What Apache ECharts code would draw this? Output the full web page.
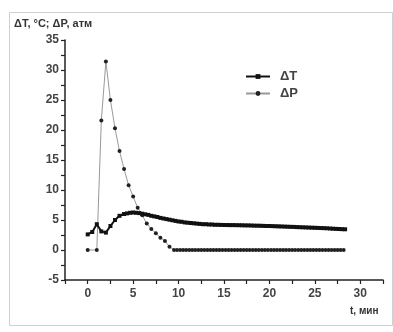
<!DOCTYPE html>
<html>
<head>
<meta charset="utf-8">
<script src="https://cdn.jsdelivr.net/npm/echarts@6/dist/echarts.min.js"></script>
<style>html,body{margin:0;padding:0;background:#fff}#c{width:393px;height:332px}</style>
</head>
<body>
<div id="c"></div>
<script>
// ΔT (°C) sample times (min) and values
var tT = [0, 0.5, 1, 1.5, 2, 2.5, 3, 3.5, 4,
  4.33, 4.67, 5, 5.33, 5.67, 6, 6.33, 6.67, 7, 7.33, 7.67, 8, 8.33, 8.67, 9, 9.33, 9.67,
  10, 10.33, 10.67, 11, 11.33, 11.67, 12, 12.33, 12.67, 13, 13.33, 13.67, 14, 14.33, 14.67,
  15, 15.33, 15.67, 16, 16.33, 16.67, 17, 17.33, 17.67, 18, 18.33, 18.67, 19, 19.33, 19.67,
  20, 20.33, 20.67, 21, 21.33, 21.67, 22, 22.33, 22.67, 23, 23.33, 23.67, 24, 24.33, 24.67,
  25, 25.33, 25.67, 26, 26.33, 26.67, 27, 27.33, 27.67, 28, 28.33];
var dT = [2.6, 3.0, 4.3, 3.1, 2.9, 4.0, 5.0, 5.7, 6.0,
  6.1, 6.2, 6.25, 6.2, 6.15, 6.05, 5.95, 5.85, 5.7, 5.6, 5.5, 5.35, 5.25, 5.15, 5.05, 4.95, 4.85,
  4.75, 4.7, 4.6, 4.55, 4.5, 4.45, 4.4, 4.35, 4.3, 4.3, 4.25, 4.25, 4.2, 4.2, 4.18,
  4.17, 4.16, 4.15, 4.15, 4.14, 4.13, 4.12, 4.1, 4.1, 4.08, 4.06, 4.05, 4.04, 4.02, 4.0,
  4.0, 3.98, 3.96, 3.94, 3.92, 3.9, 3.88, 3.86, 3.85, 3.82, 3.8, 3.78, 3.76, 3.74, 3.72,
  3.7, 3.68, 3.66, 3.64, 3.62, 3.58, 3.55, 3.52, 3.5, 3.47, 3.45];
// ΔP (atm) sample times (min) and values
var tP = [0, 1, 1.5, 2, 2.5, 3, 3.5, 4, 4.5, 5, 5.5, 6, 6.5, 7, 7.5, 8, 8.5, 9, 9.5,
  9.83, 10.17, 10.5, 10.83, 11.17, 11.5, 11.83, 12.17, 12.5, 12.83, 13.17, 13.5, 13.83,
  14.17, 14.5, 14.83, 15.17, 15.5, 15.83, 16.17, 16.5, 16.83, 17.17, 17.5, 17.83,
  18.17, 18.5, 18.83, 19.17, 19.5, 19.83, 20.17, 20.5, 20.83, 21.17, 21.5, 21.83,
  22.17, 22.5, 22.83, 23.17, 23.5, 23.83, 24.17, 24.5, 24.83, 25.17, 25.5, 25.83,
  26.17, 26.5, 26.83, 27.17, 27.5, 27.83, 28.17];
var dP = [0, 0, 21.6, 31.4, 25.0, 20.3, 16.5, 13.5, 10.8, 8.9, 7.05, 5.8, 4.4, 3.5, 2.8, 2.05, 1.5, 0.55, 0,
  0, 0, 0, 0, 0, 0, 0, 0, 0, 0, 0, 0, 0,
  0, 0, 0, 0, 0, 0, 0, 0, 0, 0, 0, 0,
  0, 0, 0, 0, 0, 0, 0, 0, 0, 0, 0, 0,
  0, 0, 0, 0, 0, 0, 0, 0, 0, 0, 0, 0,
  0, 0, 0, 0, 0, 0, 0];
var xTicks = [0, 5, 10, 15, 20, 25, 30];
var yTicks = [-5, 0, 5, 10, 15, 20, 25, 30, 35];
var serNames = ['\u0394T', '\u0394P'];
var yTitle = '\u0394T, \u00b0C; \u0394P, \u0430\u0442\u043c';
var xTitle = 't, \u043c\u0438\u043d';

function pairs(t, v) { return t.map(function (x, i) { return [x, v[i]]; }); }

var chart = echarts.init(document.getElementById('c'), null, { renderer: 'canvas' });
var font = 'Liberation Sans, Arial, sans-serif';
chart.setOption({
  animation: false,
  backgroundColor: '#fff',
  grid: { left: 65, right: 10, top: 40, bottom: 52, containLabel: false },
  graphic: [
    { type: 'rect', left: 7, top: 10, shape: { width: 383, height: 313 }, style: { fill: 'none', stroke: '#d0d0d0', lineWidth: 1 }, z: -1 },
    { type: 'text', left: 14, top: 18, style: { text: yTitle, font: 'bold 11px ' + font, fill: '#333' } },
    { type: 'text', left: 350, top: 306, style: { text: xTitle, font: 'bold 10px ' + font, fill: '#333' } }
  ],
  legend: {
    orient: 'vertical', left: 240, top: 65, itemGap: 4, itemWidth: 24, itemHeight: 6,
    data: serNames,
    textStyle: { fontFamily: font, fontSize: 13, fontWeight: 'bold', color: '#444', padding: [0, 0, 0, 5] }
  },
  xAxis: {
    type: 'value', min: -2.5, max: 32.5, interval: 2.5,
    axisLine: { onZero: false, lineStyle: { color: '#222', width: 1.5 } },
    axisTick: { length: 4, lineStyle: { color: '#222', width: 1.2 } },
    splitLine: { show: false },
    axisLabel: {
      margin: 8, color: '#444', fontFamily: font, fontSize: 12, fontWeight: 'bold',
      formatter: function (v) { return xTicks.indexOf(v) >= 0 ? String(v) : ''; }
    }
  },
  yAxis: {
    type: 'value', min: -5, max: 35, interval: 2.5,
    axisLine: { show: true, onZero: false, lineStyle: { color: '#222', width: 1.5 } },
    axisTick: { show: true, length: 4, lineStyle: { color: '#222', width: 1.2 } },
    splitLine: { show: false },
    axisLabel: {
      margin: 6, color: '#444', fontFamily: font, fontSize: 12, fontWeight: 'bold',
      formatter: function (v) { return yTicks.indexOf(v) >= 0 ? String(v) : ''; }
    }
  },
  series: [
    {
      name: serNames[0], type: 'line', data: pairs(tT, dT),
      symbol: 'rect', symbolSize: 4, showAllSymbol: true,
      lineStyle: { color: '#111', width: 2 }, itemStyle: { color: '#111' }, z: 3
    },
    {
      name: serNames[1], type: 'line', data: pairs(tP, dP),
      symbol: 'circle', symbolSize: 4, showAllSymbol: true,
      lineStyle: { color: '#999', width: 1 }, itemStyle: { color: '#222' }, z: 2
    }
  ]
});
</script>
</body>
</html>
